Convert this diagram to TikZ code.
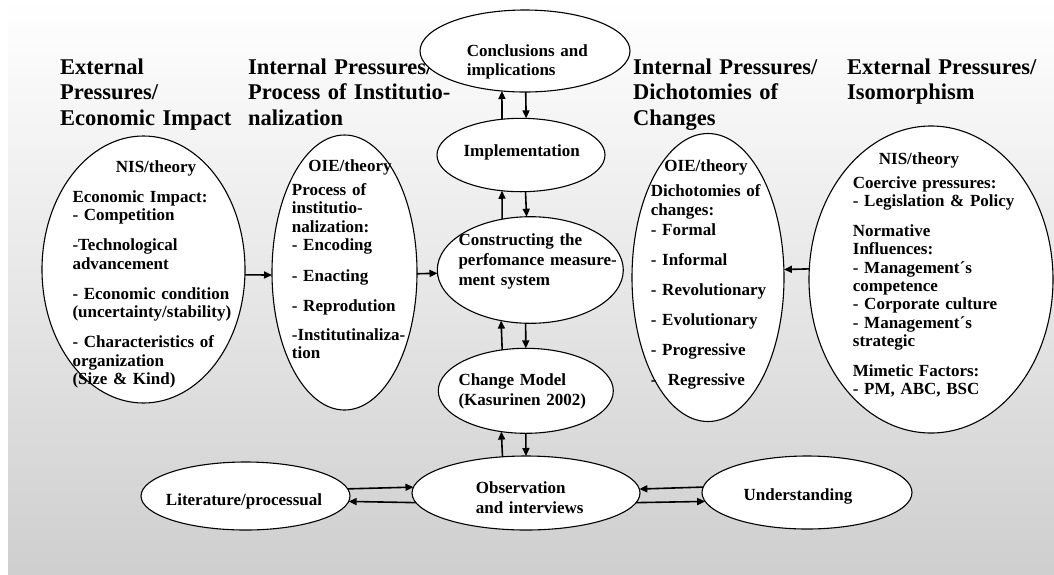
\documentclass[tikz,border=0pt]{standalone}
\usepackage{fontspec}
\setmainfont{Liberation Serif}
\usetikzlibrary{arrows.meta,shapes.geometric}
\begin{document}
\begin{tikzpicture}[x=1pt,y=-1pt,
  oval/.style={ellipse, draw=black, line width=1.1pt, fill=white, inner sep=0pt, outer sep=0pt},
  hdr/.style={anchor=base west, inner sep=0pt, text width=260pt, align=left,
              font=\fontsize{22.5}{25.7}\selectfont\bfseries},
  body/.style={anchor=base west, inner sep=0pt, text width=230pt, align=left,
               font=\fontsize{17}{18.5}\selectfont\bfseries},
  wide/.style={body, font=\fontsize{17}{20}\selectfont\bfseries},
  ttl/.style={anchor=base, inner sep=0pt, font=\fontsize{17}{18.5}\selectfont\bfseries},
  link/.style={line width=1.6pt, -{Triangle[length=8pt,width=7pt]}},
]
% background
\fill[white] (0,0) rectangle (1054,574);
\shade[top color=white, bottom color=black!19] (8,0) rectangle (1054,574);
\useasboundingbox (0,0) rectangle (1054,574);

% column headings
\node[hdr] (h1) at (60,74) {External\\Pressures/\\Economic Impact};
\node[hdr] (h2) at (248,74) {Internal Pressures/\\Process of Institutio-\\nalization};
\node[hdr] (h3) at (633,74) {Internal Pressures/\\Dichotomies of\\Changes};
\node[hdr] (h4) at (847,74) {External Pressures/\\Isomorphism};

% ellipses
\node[oval, minimum width=203pt, minimum height=267pt] (econ) at (143.5,269.5) {};
\node[oval, minimum width=145pt, minimum height=275pt] (proc) at (344.5,272.5) {};
\node[oval, minimum width=152pt, minimum height=288pt] (dich) at (708,277.5) {};
\node[oval, minimum width=244pt, minimum height=307pt] (iso) at (931,279.5) {};

\node[oval, minimum width=210pt, minimum height=82pt] (concl) at (525,51) {};
\node[oval, minimum width=168pt, minimum height=73.4pt] (impl) at (521,155) {};
\node[oval, minimum width=186pt, minimum height=106.6pt] (constr) at (530.3,270) {};
\node[oval, minimum width=175pt, minimum height=85pt] (change) at (525.8,390.8) {};

\node[oval, minimum width=209pt, minimum height=68pt] (lit) at (245.5,496) {};
\node[oval, minimum width=228pt, minimum height=74pt] (obs) at (526,493) {};
\node[oval, minimum width=210pt, minimum height=73pt] (und) at (807,492.5) {};

% texts inside the left ellipse
\node[ttl] (econT) at (156,172) {NIS/theory};
\node[body] (econB) at (72.3,202) {Economic Impact:\\- Competition\\[11.5pt]
  -Technological\\advancement\\[11.5pt]
  - Economic condition\\(uncertainty/stability)\\[11.5pt]
  - Characteristics of\\organization\\(Size \& Kind)};

\node[ttl] (procT) at (350,171.7) {OIE/theory};
\node[body] (procB) at (291.7,195) {Process of\\institutio-\\nalization:\\- Encoding\\[12pt]
  - Enacting\\[11.5pt]- Reprodution\\[10.5pt]-Institutinaliza-\\tion};

\node[ttl] (dichT) at (706,171.7) {OIE/theory};
\node[body, font=\fontsize{17}{19.2}\selectfont\bfseries] (dichB) at (650.7,196.7)
  {Dichotomies of\\changes:\\- Formal\\[10.8pt]- Informal\\[10.8pt]- Revolutionary\\[10.8pt]
   - Evolutionary\\[10.8pt]- Progressive\\[10.8pt]-\ \ Regressive};

\node[ttl] (isoT) at (919,164) {NIS/theory};
\node[body, font=\fontsize{17}{18.3}\selectfont\bfseries] (isoB) at (852.7,188.3)
  {Coercive pressures:\\- Legislation \& Policy\\[11.7pt]
   Normative\\Influences:\\- Management´s\\competence\\- Corporate culture\\- Management´s\\strategic\\[11.7pt]
   Mimetic Factors:\\- PM, ABC, BSC};

% texts of the central column
\node[body, font=\fontsize{17}{18.3}\selectfont\bfseries] (conclT) at (466.6,56.7) {Conclusions and\\implications};
\node[ttl] (implT) at (521.7,156.7) {Implementation};
\node[wide] (constrT) at (458.3,245) {Constructing the\\perfomance measure-\\ment system};
\node[wide] (changeT) at (458.3,385) {Change Model\\(Kasurinen 2002)};

% texts of the bottom row
\node[ttl] (litT) at (244,505) {Literature/processual};
\node[wide] (obsT) at (475.7,493.3) {Observation\\and interviews};
\node[ttl] (undT) at (798,500) {Understanding};

% horizontal connectors
\draw[link] (econ.-3.1) -- (proc.182);
\draw[link] (proc.-1.2) -- (constr.182.5);
\draw[link] (iso.175.1) -- (dich.6.4);

% vertical connectors of the central column
\draw[link] (impl.118) -- (concl.240.1);
\draw[link] (concl.271.4) -- (impl.82.2);
\draw[link] (constr.119.1) -- (impl.242);
\draw[link] (impl.277.8) -- (constr.94.6);
\draw[link] (change.120.2) -- (constr.240.9);
\draw[link] (constr.265.4) -- (change.90);
\draw[link] (obs.123.5) -- (change.239.8);
\draw[link] (change.270) -- (obs.90);

% bottom row connectors
\draw[link] (lit.4.3) -- (obs.177.6);
\draw[link] (obs.185) -- (lit.-3.7);
\draw[link] (und.177.7) -- (obs.2.4);
\draw[link] (obs.-5) -- (und.185.8);
\end{tikzpicture}
\end{document}
